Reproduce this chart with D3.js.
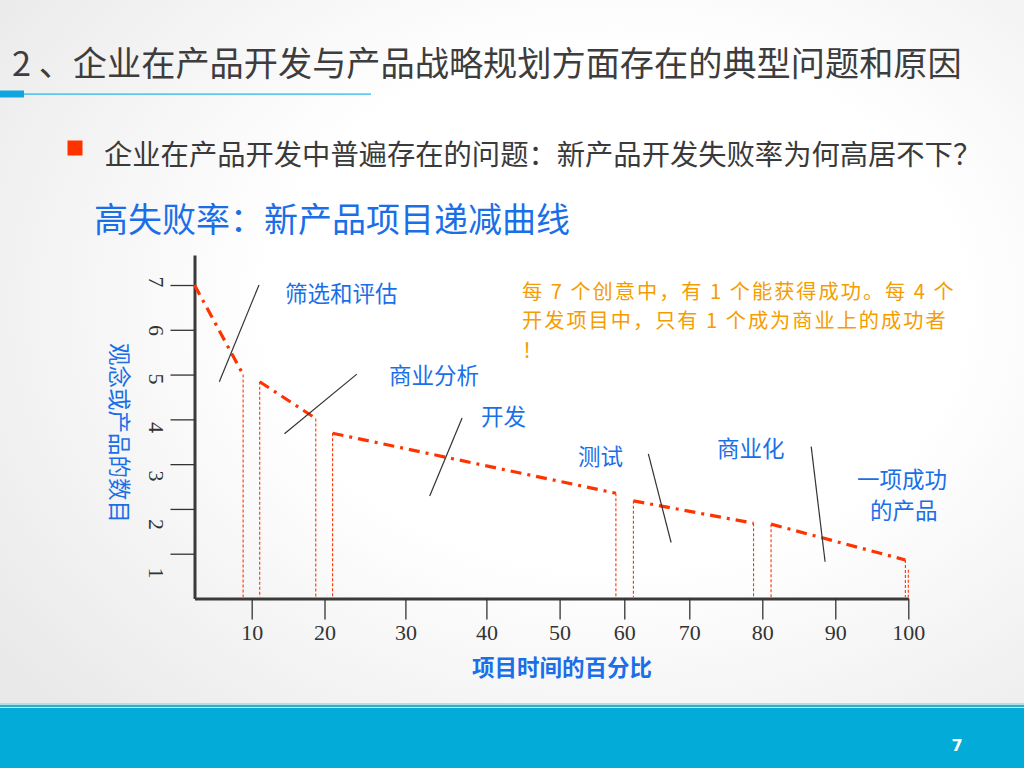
<!DOCTYPE html>
<html><head><meta charset="utf-8">
<script src="https://cdnjs.cloudflare.com/ajax/libs/d3/7.8.5/d3.min.js"></script>
<style>html,body{margin:0;padding:0;overflow:hidden;background:#fff}</style>
</head><body>
<script>
// ---------- data ----------
const xTickValues = [10, 20, 30, 40, 50, 60, 70, 80, 90, 100];
const yTickValues = [1, 2, 3, 4, 5, 6, 7];
// decreasing-curve segments (x = % of project time, y = number of ideas/products)
const segStartX = [0, 11.1, 21.0, 61.4, 81.2];
const segStartY = [7.0, 4.84, 3.69, 2.18, 1.66];
const segEndX   = [8.5, 18.8, 58.7, 78.8, 99.6];
const segEndY   = [5.0, 4.02, 2.35, 1.68, 0.86];
const finalDropX = 100, finalDropY = 0.64;
// stage divider slashes (data coords)
const slashX1 = [11.0, 24.0, 37.0, 63.7, 86.7];
const slashY1 = [7.0, 5.01, 4.03, 3.23, 3.39];
const slashX2 = [4.34, 14.5, 33.0, 67.2, 88.6];
const slashY2 = [4.84, 3.68, 2.29, 1.25, 0.82];
const stageLabels = ["筛选和评估", "商业分析", "开发", "测试", "商业化", "一项成功", "的产品"];

const titleText = "2 、企业在产品开发与产品战略规划方面存在的典型问题和原因";
const bulletText = "企业在产品开发中普遍存在的问题：新产品开发失败率为何高居不下？";
const subTitle = "高失败率：新产品项目递减曲线";
const noteLines = ["每 7 个创意中，有 1 个能获得成功。每 4 个", "开发项目中，只有 1 个成为商业上的成功者", "！"];
const xTitle = "项目时间的百分比";
const yTitle = "观念或产品的数目";
const pageNum = "7";

// ---------- layout ----------
const W = 1024, H = 768;
const CJK = "'Noto Sans CJK SC','Noto Sans',sans-serif";
const svg = d3.select("body").append("svg").attr("width", W).attr("height", H);
const defs = svg.append("defs");
const rg = defs.append("radialGradient").attr("id", "bg").attr("cx", "0.6").attr("cy", "0.4").attr("r", "0.75");
rg.append("stop").attr("offset", "0.45").attr("stop-color", "#ffffff");
rg.append("stop").attr("offset", "1").attr("stop-color", "#e9e9e9");
svg.append("rect").attr("width", W).attr("height", H).attr("fill", "url(#bg)");

// bottom bar
svg.append("rect").attr("x", 0).attr("y", 703).attr("width", W).attr("height", 2).attr("fill", "#a8e2ee");
svg.append("rect").attr("x", 0).attr("y", 705).attr("width", W).attr("height", 2).attr("fill", "#3fa9bd");
svg.append("rect").attr("x", 0).attr("y", 707).attr("width", W).attr("height", 1).attr("fill", "#bfeaf2");
svg.append("rect").attr("x", 0).attr("y", 708).attr("width", W).attr("height", 60).attr("fill", "#03acd8");
svg.append("text").attr("x", 957).attr("y", 745).attr("text-anchor", "middle").attr("dominant-baseline", "central")
  .attr("font-family", "'DejaVu Sans',sans-serif").attr("font-weight", "bold").attr("font-size", 16).attr("fill", "#fff").text(pageNum);

// title
svg.append("text").attr("x", 12).attr("y", 61).attr("dominant-baseline", "central")
  .attr("font-family", CJK).attr("font-size", 34.2).attr("fill", "#3d3d3d").text(titleText);
svg.append("rect").attr("x", 0).attr("y", 93.5).attr("width", 371).attr("height", 1.2).attr("fill", "#1cb3ea");
svg.append("rect").attr("x", 0).attr("y", 90.5).attr("width", 24).attr("height", 7).attr("fill", "#0ea5e0");

// bullet
svg.append("rect").attr("x", 67.5).attr("y", 140.5).attr("width", 15).attr("height", 15).attr("fill", "#ff3300");
svg.append("text").attr("x", 104).attr("y", 152).attr("dominant-baseline", "central")
  .attr("font-family", CJK).attr("font-size", 28.3).attr("fill", "#3a3a3a").text(bulletText);

// subtitle
svg.append("text").attr("x", 94).attr("y", 217).attr("dominant-baseline", "central")
  .attr("font-family", CJK).attr("font-size", 34).attr("fill", "#1a6fe8").text(subTitle);

// scales
const x = d3.scaleLinear()
  .domain([0, 10, 20, 30, 40, 50, 60, 70, 80, 90, 100])
  .range([194.5, 251.7, 324.5, 405.4, 486.4, 559.6, 624.3, 689.3, 762.3, 835.3, 908.3]);
const y = d3.scaleLinear().domain([0, 7.67]).range([598.5, 255]);
const yLab = d3.scaleLinear().domain([1, 7]).range([573, 282]);

// axes
const gx = svg.append("g").attr("transform", `translate(0,${y(0)})`)
  .call(d3.axisBottom(x).tickValues(xTickValues).tickSize(21).tickSizeOuter(0));
gx.select(".domain").attr("stroke", "#3a3a3a").attr("stroke-width", 3);
gx.selectAll(".tick line").attr("stroke", "#333").attr("stroke-width", 1.3);
gx.selectAll(".tick text").attr("y", 34).attr("dy", "0.35em")
  .attr("font-family", "'Liberation Serif',serif").attr("font-size", 22).attr("fill", "#333");

const gy = svg.append("g").attr("transform", `translate(${x(0)},0)`)
  .call(d3.axisLeft(y).tickValues(yTickValues).tickSize(24).tickSizeOuter(0).tickFormat(""));
gy.select(".domain").attr("stroke", "#3a3a3a").attr("stroke-width", 3);
gy.selectAll(".tick line").attr("stroke", "#333").attr("stroke-width", 1.3);
svg.append("g").selectAll("text").data(yTickValues).join("text")
  .attr("transform", d => `translate(${x(0) - 38},${yLab(d)}) rotate(90)`)
  .attr("text-anchor", "middle").attr("dominant-baseline", "central")
  .attr("font-family", "'Liberation Serif',serif").attr("font-size", 22).attr("fill", "#333")
  .text(d => d);

// axis titles
svg.append("text").attr("x", 562).attr("y", 666).attr("text-anchor", "middle").attr("dominant-baseline", "central")
  .attr("font-family", CJK).attr("font-weight", "bold").attr("font-size", 22.5).attr("fill", "#1a6fe8").text(xTitle);
svg.append("text").attr("transform", "translate(121,433) rotate(90)").attr("text-anchor", "middle").attr("dominant-baseline", "central")
  .attr("font-family", CJK).attr("font-size", 22.5).attr("fill", "#1a6fe8").text(yTitle);

// dotted drop lines
const drops = [];
segStartX.forEach((sx, i) => {
  drops.push([segEndX[i], segEndY[i]]);
  if (i > 0) drops.push([sx, segStartY[i]]);
});
drops.push([finalDropX, finalDropY]);
svg.append("g").selectAll("line").data(drops).join("line")
  .attr("x1", d => x(d[0])).attr("x2", d => x(d[0]))
  .attr("y1", d => y(d[1])).attr("y2", y(0) - 1.5)
  .attr("stroke", "#ff3300").attr("stroke-width", 1.1).attr("stroke-dasharray", "3,2");

// dash-dot curve segments
const line = d3.line().x(d => x(d[0])).y(d => y(d[1]));
svg.append("g").selectAll("path").data(segStartX.map((sx, i) => [[sx, segStartY[i]], [segEndX[i], segEndY[i]]]))
  .join("path").attr("d", line).attr("fill", "none")
  .attr("stroke", "#ff3300").attr("stroke-width", 3.2).attr("stroke-dasharray", "11,6,3,6");

// stage slashes
svg.append("g").selectAll("line").data(slashX1).join("line")
  .attr("x1", (d, i) => x(d)).attr("y1", (d, i) => y(slashY1[i]))
  .attr("x2", (d, i) => x(slashX2[i])).attr("y2", (d, i) => y(slashY2[i]))
  .attr("stroke", "#333").attr("stroke-width", 1.2);

// stage labels
const labelPos = [[285, 292], [389, 374], [481, 415], [578, 455], [717, 447], [857, 478], [870, 509]];
svg.append("g").selectAll("text").data(stageLabels).join("text")
  .attr("x", (d, i) => labelPos[i][0]).attr("y", (d, i) => labelPos[i][1])
  .attr("dominant-baseline", "central")
  .attr("font-family", CJK).attr("font-size", 22.5).attr("fill", "#1a6fe8").text(d => d);

// orange note (one text block, one tspan per line)
const note = svg.append("text").attr("font-family", CJK).attr("font-size", 20.2)
  .attr("letter-spacing", 2).attr("fill", "#f59c00");
note.selectAll("tspan").data(noteLines).join("tspan")
  .attr("x", 522).attr("y", (d, i) => 290 + i * 29.5).attr("dominant-baseline", "central").text(d => d);
</script>
</body></html>
